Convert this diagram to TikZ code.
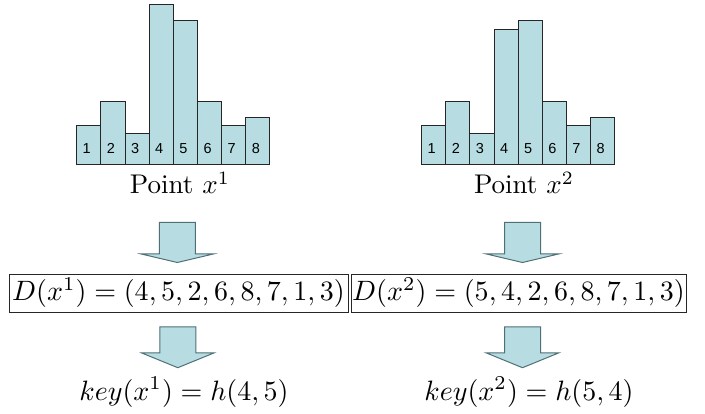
\documentclass[tikz,border=0pt]{standalone}
\usepackage{fontspec}
\newfontfamily\numfont{Liberation Sans}
\definecolor{barblue}{RGB}{183,221,226}
\definecolor{arrowline}{RGB}{78,112,118}
\tikzset{
  bar/.style={fill=barblue, draw=black!85, line width=1pt},
  barnum/.style={font=\numfont\fontsize{14.5}{16}\selectfont, inner sep=0pt, anchor=base},
  arrowbox/.style={fill=barblue, draw=arrowline, line width=1pt, line join=miter},
  mathtext/.style={scale=2.8, inner sep=0pt},
  formbox/.style={mathtext, draw=black!85, line width=0.36pt, minimum height=13.57pt}
}
% block arrow: x centre, top, end of shaft, tip
\newcommand{\blkarrow}[4]{%
  \draw[arrowbox] (#1-18,#2) -- (#1+18,#2) -- (#1+18,#3) -- (#1+36,#3)
    -- (#1,#4) -- (#1-36,#3) -- (#1-18,#3) -- cycle;}
\begin{document}
\begin{tikzpicture}[x=1pt, y=-1pt]
  \useasboundingbox (0,0) rectangle (705,414);

  % histogram of x^1
  \foreach \h [count=\i] in {126,101.7,133.3,4.7,20.7,101.7,126,117.3} {
    \draw[bar] ({76.7+(\i-1)*24.16},165) rectangle ++(24.16,\h-165);
    \node[barnum] at ({76.7+(\i-0.5)*24.16-2},153.5) {\i};
  }
  % histogram of x^2
  \foreach \h [count=\i] in {126,101.7,133.3,29.3,20.7,101.7,126,117.3} {
    \draw[bar] ({421.7+(\i-1)*24.12},165) rectangle ++(24.12,\h-165);
    \node[barnum] at ({421.7+(\i-0.5)*24.12-2},153.5) {\i};
  }

  \node[mathtext, scale=0.965, anchor=base] (pt1) at (180,194) {Point $x^1$};
  \node[mathtext, scale=0.965, anchor=base] (pt2) at (524,194) {Point $x^2$};

  \blkarrow{177.3}{222.5}{254}{262.5}
  \blkarrow{522.5}{222.5}{254}{262.5}

  \node[formbox, minimum width=121.1pt] (d1) at (178.5,293) {$D(x^1) = (4,5,2,6,8,7,1,3)$};
  \node[formbox, minimum width=119.6pt] (d2) at (518.5,293) {$D(x^2) = (5,4,2,6,8,7,1,3)$};

  \blkarrow{177.8}{327}{353}{367.7}
  \blkarrow{522.5}{327}{353}{367.7}

  \node[mathtext, anchor=base] (k1) at (184,400) {$key(x^1) = h(4,5)$};
  \node[mathtext, anchor=base] (k2) at (529,400) {$key(x^2) = h(5,4)$};
\end{tikzpicture}
\end{document}
